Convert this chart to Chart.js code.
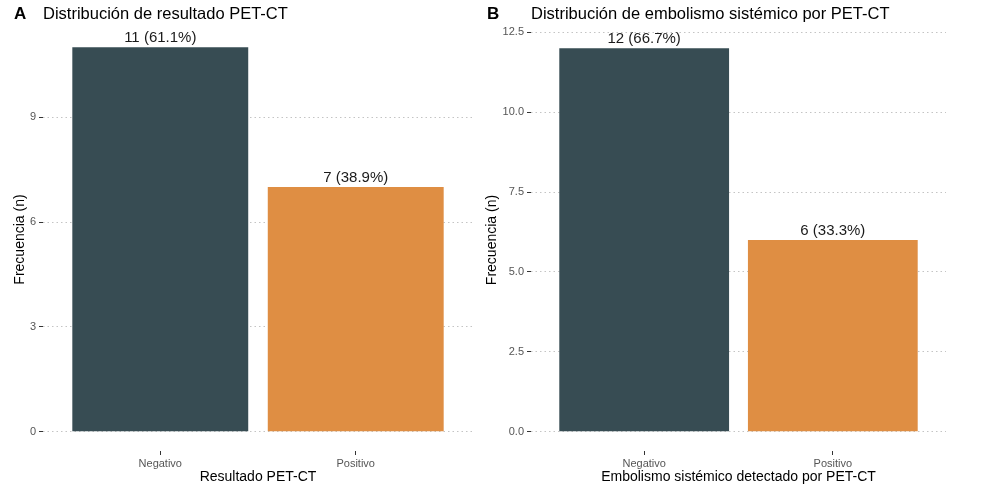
<!DOCTYPE html>
<html>
<head>
<meta charset="utf-8">
<script src="https://cdn.jsdelivr.net/npm/chart.js@4/dist/chart.umd.min.js"></script>
<style>
  body { margin: 0; background: #fff; }
  #wrap { position: relative; width: 984px; height: 490px; }
  #panelA { position: absolute; left: 0; top: 0; }
  #panelB { position: absolute; left: 474px; top: 0; }
</style>
</head>
<body>
<div id="wrap">
  <canvas id="panelA" width="474" height="490"></canvas>
  <canvas id="panelB" width="510" height="490"></canvas>
</div>
<script>
// Panel A data
const catsA = ['Negativo', 'Positivo'];
const countsA = [11, 7];
const ticksA = [0, 3, 6, 9];

// Panel B data
const catsB = ['Negativo', 'Positivo'];
const countsB = [12, 6];
const ticksB = [0, 2.5, 5, 7.5, 10, 12.5];

const barColors = ['#374C53', '#DF8E43'];

Chart.defaults.font.family = "'Liberation Sans', Arial, sans-serif";

// "n (xx.x%)" labels over the bars
function pctLabels(counts) {
    const total = counts.reduce((acc, curr) => acc + curr, 0);
    return counts.map(c => `${c} (${(c / total * 100).toFixed(1)}%)`);
}

// Draws bar labels, the panel letter and the title
const decorPlugin = {
    id: 'decor',
    afterDatasetsDraw(chart, args, opts) {
        const ctx = chart.ctx;
        const meta = chart.getDatasetMeta(0);
        ctx.save();
        ctx.font = "15px 'Liberation Sans', Arial, sans-serif";
        ctx.fillStyle = '#1a1a1a';
        ctx.textAlign = 'center';
        ctx.textBaseline = 'alphabetic';
        meta.data.forEach((el, i) => {
            ctx.fillText(opts.labels[i], el.x, el.y - 5);
        });

        ctx.textAlign = 'left';
        ctx.fillStyle = '#000';
        ctx.font = "bold 17px 'Liberation Sans', Arial, sans-serif";
        ctx.fillText(opts.letter, opts.letterX, 19);
        ctx.font = "16.5px 'Liberation Sans', Arial, sans-serif";
        ctx.fillText(opts.title, chart.chartArea.left, 19);
        ctx.restore();
    }
};

function drawPanel(id, p) {
    const yMax = Math.max(...p.counts);
    const pad = yMax * 0.05;
    new Chart(document.getElementById(id), {
        type: 'bar',
        data: {
            datasets: [{
                data: p.counts.map((v, i) => ({ x: i + 1, y: v })),
                backgroundColor: barColors,
                categoryPercentage: 1,
                barPercentage: 0.9
            }]
        },
        options: {
            responsive: false,
            animation: false,
            layout: { padding: { top: p.top, right: p.right, left: 0, bottom: 0 } },
            plugins: {
                legend: { display: false },
                tooltip: { enabled: false },
                decor: { labels: pctLabels(p.counts), letter: p.letter, letterX: p.letterX, title: p.title }
            },
            scales: {
                x: {
                    type: 'linear',
                    offset: false,
                    min: 0.4,
                    max: p.cats.length + 0.6,
                    afterBuildTicks: s => { s.ticks = p.cats.map((c, i) => ({ value: i + 1 })); },
                    afterFit: s => { s.height = 39; },
                    border: { display: false },
                    grid: {
                        offset: false,
                        drawOnChartArea: false,
                        drawTicks: true,
                        tickLength: 4,
                        tickColor: '#333',
                        tickWidth: 1
                    },
                    ticks: {
                        callback: v => p.cats[v - 1],
                        color: '#555',
                        font: { size: 11 },
                        padding: 2,
                        maxRotation: 0,
                        autoSkip: false
                    },
                    title: {
                        display: true,
                        text: p.xTitle,
                        color: '#000',
                        font: { size: 14 },
                        padding: { top: 0, bottom: 4.6 }
                    }
                },
                y: {
                    min: -pad,
                    max: yMax + pad,
                    afterBuildTicks: s => { s.ticks = p.yTicks.map(v => ({ value: v })); },
                    afterFit: s => { s.width = p.left; },
                    border: { display: false, dash: [1.5, 3] },
                    grid: {
                        color: '#c4c4c4',
                        lineWidth: 1,
                        tickLength: 4,
                        tickColor: '#333',
                        tickWidth: 1,
                        tickBorderDash: []
                    },
                    ticks: {
                        callback: v => v.toFixed(p.decimals),
                        color: '#555',
                        font: { size: 11 },
                        padding: 3
                    },
                    title: {
                        display: true,
                        text: 'Frecuencia (n)',
                        color: '#000',
                        font: { size: 14 },
                        padding: { top: p.yTitlePad, bottom: 0 }
                    }
                }
            }
        },
        plugins: [decorPlugin]
    });
}

drawPanel('panelA', {
    cats: catsA, counts: countsA, yTicks: ticksA, decimals: 0,
    letter: 'A', letterX: 14, title: 'Distribución de resultado PET-CT',
    xTitle: 'Resultado PET-CT',
    top: 28, right: 1, left: 43, yTitlePad: 11.6
});

drawPanel('panelB', {
    cats: catsB, counts: countsB, yTicks: ticksB, decimals: 1,
    letter: 'B', letterX: 13, title: 'Distribución de embolismo sistémico por PET-CT',
    xTitle: 'Embolismo sistémico detectado por PET-CT',
    top: 29, right: 38, left: 57, yTitlePad: 9.6
});
</script>
</body>
</html>
